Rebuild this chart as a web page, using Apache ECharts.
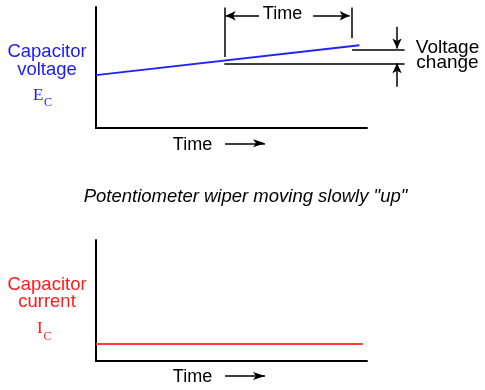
<!DOCTYPE html>
<html><head><meta charset="utf-8">
<script src="https://cdn.jsdelivr.net/npm/echarts@6/dist/echarts.min.js"></script>
<style>html,body{margin:0;padding:0;background:#fff}#c{width:485px;height:390px}</style>
</head><body><div id="c"></div>
<script>
// ---- data (frame units: x 0..140, y 0..100; time axis ends at 100) ----
const xFrame = [0, 140];
const timeAxisEnd = 100;
const voltageTime = [0, 97.3];
const voltageValues = [43.7, 68.4];
const currentTime = [0, 98.6];
const currentValues = [14, 14];
// annotation values in top-chart data units
const timeBracketX = [47.4, 94.4];
const timeBracketTop = 99.6;
const timeBracketBottom = [58.7, 74.1];
const timeArrowY = 92.8;
const timeArrowLeft = [60.2, 47.9];   // tail, tip
const timeArrowRight = [80.2, 93.7];  // tail, tip
const voltageLevels = [53.1, 65.0];   // lower, upper
const voltageLevelStart = [47.4, 94.6];
const voltageLevelEnd = 114.0;
const voltageArrowX = 111.2;
const voltageArrowDown = [83.7, 65.8];
const voltageArrowUp = [34.1, 53.6];
// texts
const titleText = 'Potentiometer wiper moving slowly "up"';
const topLabel = 'Capacitor\nvoltage';
const bottomLabel = 'Capacitor\ncurrent';
const axisName = 'Time';
const deltaLabel = 'Voltage\nchange';

const SANS = '"Liberation Sans", Arial, Helvetica, sans-serif';
const SERIF = '"Liberation Serif", "Times New Roman", serif';
const BLACK = '#000';

function seg(a, b, arrow, size) {
  const s = size || [7, 10];
  return [
    Object.assign({symbol: 'none', itemStyle: {color: BLACK}}, a),
    Object.assign({symbol: arrow ? 'arrow' : 'none', symbolSize: s, itemStyle: {color: BLACK}}, b)
  ];
}
function axisSeg() {
  return [
    {coord: [0, 0], symbol: 'none', itemStyle: {color: BLACK}, lineStyle: {width: 2, cap: 'square'}},
    {coord: [timeAxisEnd, 0], symbol: 'none', itemStyle: {color: BLACK}}
  ];
}
const mlBase = {
  silent: true, symbol: 'none', label: {show: false},
  lineStyle: {color: BLACK, width: 1.5, type: 'solid'},
  emphasis: {disabled: true}, animation: false
};

const topMarks = [
  axisSeg(),
  seg({coord: [timeBracketX[0], timeBracketTop]}, {coord: [timeBracketX[0], timeBracketBottom[0]]}),
  seg({coord: [timeBracketX[1], timeBracketTop]}, {coord: [timeBracketX[1], timeBracketBottom[1]]}),
  seg({coord: [timeArrowLeft[0], timeArrowY]}, {coord: [timeArrowLeft[1], timeArrowY]}, true),
  seg({coord: [timeArrowRight[0], timeArrowY]}, {coord: [timeArrowRight[1], timeArrowY]}, true),
  seg({coord: [voltageLevelStart[0], voltageLevels[0]]}, {coord: [voltageLevelEnd, voltageLevels[0]]}),
  seg({coord: [voltageLevelStart[1], voltageLevels[1]]}, {coord: [voltageLevelEnd, voltageLevels[1]]}),
  seg({coord: [voltageArrowX, voltageArrowDown[0]]}, {coord: [voltageArrowX, voltageArrowDown[1]]}, true),
  seg({coord: [voltageArrowX, voltageArrowUp[0]]}, {coord: [voltageArrowX, voltageArrowUp[1]]}, true),
  seg({x: 225, y: 143.3}, {x: 265, y: 143.3}, true, [6, 12])
];
const bottomMarks = [
  axisSeg(),
  seg({x: 225, y: 376}, {x: 265, y: 376}, true, [6, 12])
];

const chart = echarts.init(document.getElementById('c'), null, {renderer: 'canvas'});
const yAx = (i) => ({
  type: 'value', gridIndex: i, min: 0, max: 100,
  axisLine: {show: true, lineStyle: {color: BLACK, width: 2}},
  axisTick: {show: false}, axisLabel: {show: false}, splitLine: {show: false}
});
const xAx = (i) => ({
  type: 'value', gridIndex: i, min: xFrame[0], max: xFrame[1],
  axisLine: {show: false}, axisTick: {show: false}, axisLabel: {show: false}, splitLine: {show: false}
});

chart.setOption({
  animation: false,
  backgroundColor: '#fff',
  grid: [
    {left: 96, top: 7, width: 379, height: 121},
    {left: 96, top: 240, width: 379, height: 121}
  ],
  xAxis: [xAx(0), xAx(1)],
  yAxis: [yAx(0), yAx(1)],
  series: [
    {
      type: 'line', xAxisIndex: 0, yAxisIndex: 0, clip: false, symbol: 'none', silent: true,
      data: voltageTime.map((t, i) => [t, voltageValues[i]]),
      lineStyle: {color: '#2222ff', width: 2}, itemStyle: {color: '#2222ff'},
      markLine: Object.assign({}, mlBase, {data: topMarks})
    },
    {
      type: 'line', xAxisIndex: 1, yAxisIndex: 1, clip: false, symbol: 'none', silent: true,
      data: currentTime.map((t, i) => [t, currentValues[i]]),
      lineStyle: {color: '#ff3b3b', width: 2}, itemStyle: {color: '#ff3b3b'},
      markLine: Object.assign({}, mlBase, {data: bottomMarks})
    }
  ],
  graphic: [
    {type: 'text', x: 47, y: 61, style: {text: topLabel, fill: '#1a1aff', font: '18.5px ' + SANS, lineHeight: 17.5, align: 'center', verticalAlign: 'middle'}},
    {type: 'text', x: 33, y: 96, style: {text: 'E', fill: '#1a1aff', font: '17px ' + SERIF, align: 'left', verticalAlign: 'middle'}},
    {type: 'text', x: 44, y: 102.5, style: {text: 'C', fill: '#1a1aff', font: '12px ' + SERIF, align: 'left', verticalAlign: 'middle'}},
    {type: 'text', x: 47, y: 293.5, style: {text: bottomLabel, fill: '#ff1a1a', font: '18.5px ' + SANS, lineHeight: 16.5, align: 'center', verticalAlign: 'middle'}},
    {type: 'text', x: 37, y: 329, style: {text: 'I', fill: '#ff1a1a', font: '17px ' + SERIF, align: 'left', verticalAlign: 'middle'}},
    {type: 'text', x: 43.5, y: 337, style: {text: 'C', fill: '#ff1a1a', font: '12px ' + SERIF, align: 'left', verticalAlign: 'middle'}},
    {type: 'text', x: 282.5, y: 14, style: {text: axisName, fill: BLACK, font: '18px ' + SANS, align: 'center', verticalAlign: 'middle'}},
    {type: 'text', x: 447.5, y: 55, style: {text: deltaLabel, fill: BLACK, font: '19px ' + SANS, lineHeight: 15, align: 'center', verticalAlign: 'middle'}},
    {type: 'text', x: 192.5, y: 145, style: {text: axisName, fill: BLACK, font: '18px ' + SANS, align: 'center', verticalAlign: 'middle'}},
    {type: 'text', x: 192.5, y: 377, style: {text: axisName, fill: BLACK, font: '18px ' + SANS, align: 'center', verticalAlign: 'middle'}},
    {type: 'text', x: 245.5, y: 196.5, style: {text: titleText, fill: BLACK, font: 'italic 18.5px ' + SANS, align: 'center', verticalAlign: 'middle'}}
  ]
});
</script></body></html>
